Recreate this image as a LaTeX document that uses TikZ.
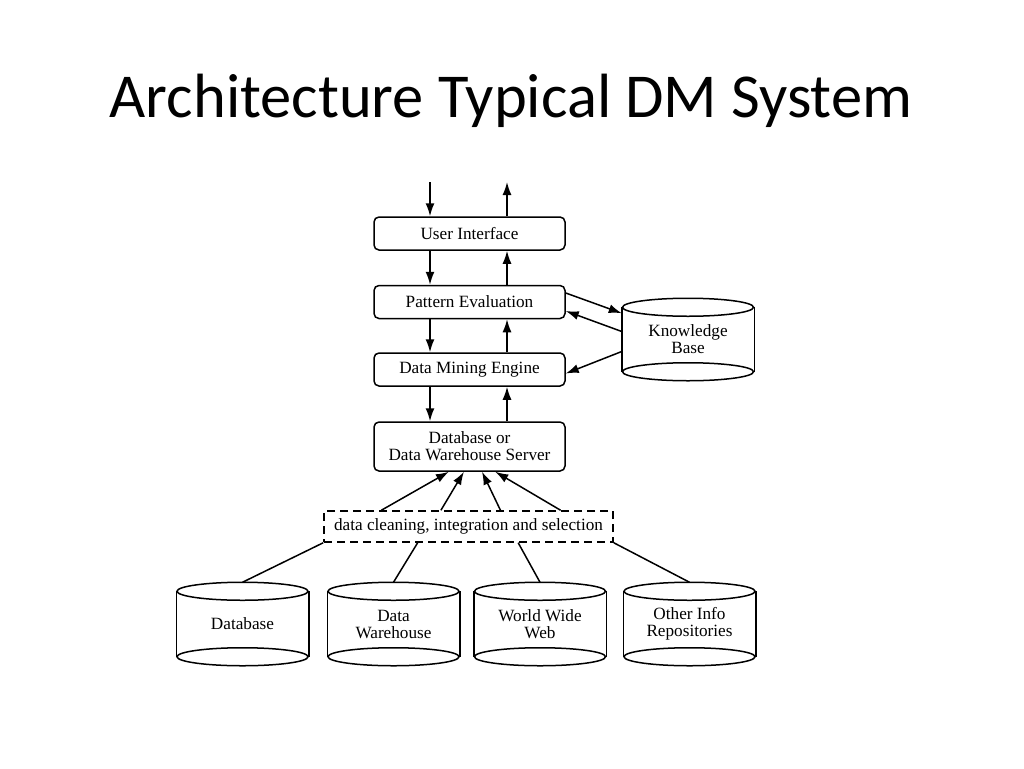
\documentclass[tikz,border=0pt]{standalone}
\usepackage{fontspec}
\setmainfont{Liberation Serif}
\newfontfamily\titlefont{Carlito}
\usetikzlibrary{arrows.meta,calc}
\tikzset{
  box/.style={draw, rounded corners=5pt, minimum width=191pt, minimum height=33pt, align=center, inner sep=0pt},
  cleanbox/.style={draw, dash pattern=on 8pt off 5pt, minimum width=289pt, minimum height=31pt, inner sep=0pt},
  cyl/.style={minimum width=131pt, minimum height=63pt, align=center, inner sep=0pt},
  arr/.style={-{Latex[length=13pt,width=9pt]}}
}
\begin{document}
\begin{tikzpicture}[x=1pt,y=-1pt,line width=1.5pt,font=\fontsize{17.2}{17}\selectfont]
\useasboundingbox (0,0) rectangle (1024,768);
\node[anchor=base,font=\titlefont\fontsize{62.5}{62.5}\selectfont] (title) at (511,117) {Architecture Typical DM System};
\node[box] (ui) at (469.5,233.5) {User Interface};
\node[box] (pe) at (469.5,302) {Pattern Evaluation};
\node[box] (dm) at (469.5,369.5) {Data Mining Engine};
\node[box,minimum height=49pt] (dbs) at (469.5,446.5) {Database or\\Data Warehouse Server};
\node[cleanbox] (clean) at (468.5,526.5) {data cleaning, integration and selection};
\node[cyl] (kb) at (688,339.5) {Knowledge\\Base};
\node[cyl,minimum height=64pt] (db) at (242.5,624) {Database};
\node[cyl,minimum height=64pt] (dw) at (393.5,624) {Data\\Warehouse};
\node[cyl,minimum height=64pt] (www) at (540,624) {World Wide\\Web};
\node[cyl,minimum height=64pt] (oir) at (689.5,624) {Other Info\\Repositories};
\foreach \cy in {kb,db,dw,www,oir}{
  \draw (\cy.north west) -- (\cy.south west) (\cy.north east) -- (\cy.south east);
  \draw (\cy.north) ellipse [x radius=65.5pt, y radius=9pt];
  \draw (\cy.south) ellipse [x radius=65.5pt, y radius=9pt];
}
\coordinate (dn) at (430,182);
\coordinate (up) at (507,182);
\draw[arr] (dn) -- (ui.north -| dn);
\draw[arr] (ui.north -| up) -- (up);
\draw[arr] (ui.south -| dn) -- (pe.north -| dn);
\draw[arr] (pe.north -| up) -- (ui.south -| up);
\draw[arr] (pe.south -| dn) -- (dm.north -| dn);
\draw[arr] (dm.north -| up) -- (pe.south -| up);
\draw[arr] (dm.south -| dn) -- (dbs.north -| dn);
\draw[arr] (dbs.north -| up) -- (dm.south -| up);
\draw[arr] ([yshift=9pt]pe.east) -- ([yshift=-6pt]kb.north west);
\draw[arr] ([yshift=8pt]kb.west) -- ([yshift=-9pt]pe.east);
\draw[arr] ([yshift=-12pt]kb.west) -- ([yshift=-4pt]dm.east);
\draw[arr] ($(clean.north west)!0.20!(clean.north east)$) -- ($(dbs.south west)!0.393!(dbs.south east)$);
\draw[arr] ($(clean.north west)!0.405!(clean.north east)$) -- ($(dbs.south west)!0.471!(dbs.south east)$);
\draw[arr] ($(clean.north west)!0.61!(clean.north east)$) -- ($(dbs.south west)!0.565!(dbs.south east)$);
\draw[arr] ($(clean.north west)!0.817!(clean.north east)$) -- ($(dbs.south west)!0.634!(dbs.south east)$);
\draw ([yshift=9pt]db.north) -- (clean.south west);
\draw ([yshift=9pt]dw.north) -- ($(clean.south west)!0.325!(clean.south east)$);
\draw ([yshift=9pt]www.north) -- ($(clean.south west)!0.671!(clean.south east)$);
\draw ([yshift=9pt]oir.north) -- (clean.south east);
\end{tikzpicture}
\end{document}
